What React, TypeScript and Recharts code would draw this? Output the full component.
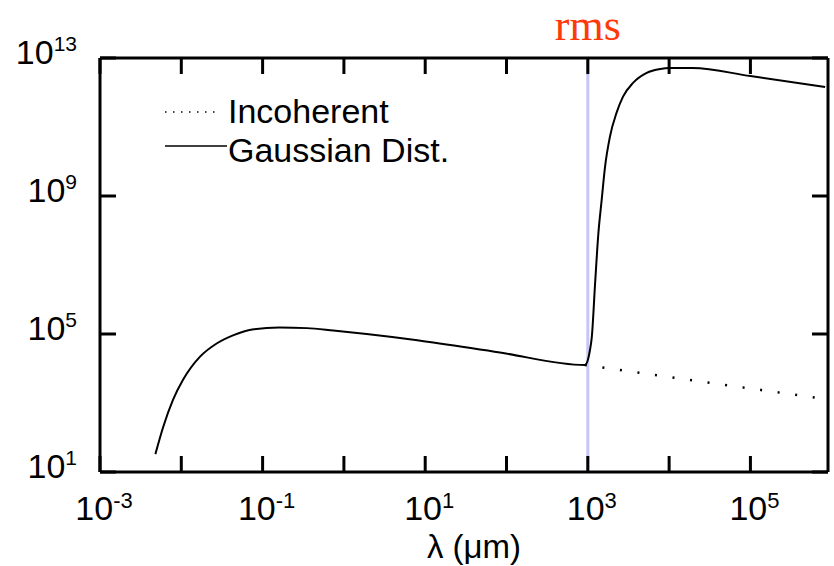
import React from 'react';
import { LineChart, Line, XAxis, YAxis, ReferenceLine, Legend } from 'recharts';

// wavelength (um) and intensity, log-log
const LAMBDA_GAUSS = [
  4.8e-3, 6.0e-3, 7.9e-3, 0.0105, 0.017, 0.0275, 0.044, 0.078, 0.16, 0.35, 0.74, 1.9, 8, 83, 920,
  1065, 1120, 1230, 1350, 1480, 1630, 1870, 2260, 2710, 3600, 5300, 7800, 10200, 19500, 100000, 830000,
];
const GAUSSIAN = [
  33, 204, 1230, 4700, 2.2e4, 5.4e4, 9.3e4, 1.38e5, 1.55e5, 1.48e5, 1.26e5, 1.0e5, 6.6e4, 2.9e4, 1.26e4,
  3.5e4, 8.3e4, 3.0e6, 8.5e7, 7.6e8, 7.1e9, 5.2e10, 2.6e11, 7.6e11, 1.9e12, 3.7e12, 4.8e12, 5.1e12, 5.1e12, 3.0e12, 1.45e12,
];

// below the rms wavelength the incoherent curve sits under the gaussian one
const LAMBDA_INCOH = [920, 830000];
const INCOHERENT = [1.26e4, 1.3e3];

const X_TICKS = [1e-3, 1e-2, 1e-1, 1, 10, 100, 1e3, 1e4, 1e5];
const X_LABELED = [1e-3, 1e-1, 10, 1e3, 1e5];
const Y_TICKS = [10, 1e5, 1e9, 1e13];
const RMS_LAMBDA = 1000;

const SANS = '"Liberation Sans", Arial, Helvetica, sans-serif';
const SERIF = '"Liberation Serif", "Times New Roman", serif';
const TICK_LEN = 16;

const gaussData = LAMBDA_GAUSS.map((x, i) => ({ x, y: GAUSSIAN[i] }));
const incohData = LAMBDA_INCOH.map((x, i) => ({ x, y: INCOHERENT[i] }));

const exponent = (v: number) => String(Math.round(Math.log10(v)));

// ticks point into the plot; x, y arrive at the axis line since tickSize/tickMargin are 0
function FrameTick({ x, y, payload, side }: any) {
  const tick = {
    bottom: [x, y, x, y - TICK_LEN],
    top: [x, y, x, y + TICK_LEN],
    left: [x, y, x + TICK_LEN, y],
    right: [x, y, x - TICK_LEN, y],
  }[side as 'bottom' | 'top' | 'left' | 'right'];
  let label = null;
  if (side === 'bottom' && X_LABELED.includes(payload.value)) {
    label = (
      <text x={x + 4} y={y + 48} textAnchor="middle" fontFamily={SANS} fontSize={34} fill="#000">
        10<tspan dy={-12} fontSize={22}>{exponent(payload.value)}</tspan>
      </text>
    );
  }
  if (side === 'left') {
    label = (
      <text x={x - 23} y={y + 6} textAnchor="end" fontFamily={SANS} fontSize={34} fill="#000">
        10<tspan dy={-13} fontSize={21}>{exponent(payload.value)}</tspan>
      </text>
    );
  }
  return (
    <g>
      <line x1={tick[0]} y1={tick[1]} x2={tick[2]} y2={tick[3]} stroke="#000" strokeWidth={3} />
      {label}
    </g>
  );
}

function LegendBox({ payload }: any) {
  const rows = (payload || []).filter((p: any) => p.type !== 'none');
  return (
    <svg width={300} height={80}>
      {rows.map((p: any) => {
        const dotted = p.value === 'Incoherent';
        const ly = dotted ? 20 : 54;
        return (
          <g key={p.value}>
            <line
              x1={5}
              x2={dotted ? 55 : 67}
              y1={ly}
              y2={ly}
              stroke="#000"
              strokeWidth={1.5}
              strokeDasharray={dotted ? '1.5 6.5' : undefined}
            />
            <text x={68} y={dotted ? 31 : 70} fontFamily={SANS} fontSize={34} fill="#000">
              {p.value}
            </text>
          </g>
        );
      })}
    </svg>
  );
}

const axisStroke = { stroke: '#000', strokeWidth: 3 };

export default function App() {
  return (
    <div style={{ position: 'absolute', left: 0, top: 0, background: '#fff' }}>
      <LineChart width={834} height={566} margin={{ top: 57, right: 5, bottom: 0, left: 0 }}>
        <XAxis
          xAxisId="b"
          dataKey="x"
          type="number"
          scale="log"
          domain={[1e-3, 9e5]}
          allowDataOverflow
          ticks={X_TICKS}
          interval={0}
          orientation="bottom"
          height={94}
          tickSize={0}
          tickMargin={0}
          tickLine={false}
          axisLine={axisStroke}
          tick={<FrameTick side="bottom" />}
          label={{ value: 'λ (μm)', position: 'insideBottom', offset: 8, fontFamily: SANS, fontSize: 33, fill: '#000', dx: 10 }}
        />
        <XAxis
          xAxisId="t"
          dataKey="x"
          type="number"
          scale="log"
          domain={[1e-3, 9e5]}
          allowDataOverflow
          ticks={X_TICKS}
          interval={0}
          orientation="top"
          height={1}
          tickSize={0}
          tickMargin={0}
          tickLine={false}
          axisLine={axisStroke}
          tick={<FrameTick side="top" />}
        />
        <YAxis
          yAxisId="l"
          type="number"
          scale="log"
          domain={[10, 1e13]}
          allowDataOverflow
          ticks={Y_TICKS}
          interval={0}
          orientation="left"
          width={100}
          tickSize={0}
          tickMargin={0}
          tickLine={false}
          axisLine={axisStroke}
          tick={<FrameTick side="left" />}
        />
        <YAxis
          yAxisId="r"
          type="number"
          scale="log"
          domain={[10, 1e13]}
          allowDataOverflow
          ticks={Y_TICKS}
          interval={0}
          orientation="right"
          width={1}
          tickSize={0}
          tickMargin={0}
          tickLine={false}
          axisLine={axisStroke}
          tick={<FrameTick side="right" />}
        />
        <Legend
          content={<LegendBox />}
          layout="horizontal"
          verticalAlign="middle"
          align="center"
          wrapperStyle={{ left: 160, top: 92, width: 300, height: 80 }}
        />
        <Line
          xAxisId="t"
          yAxisId="r"
          data={gaussData}
          dataKey="y"
          stroke="none"
          dot={false}
          legendType="none"
          isAnimationActive={false}
        />
        <ReferenceLine
          xAxisId="b"
          yAxisId="l"
          x={RMS_LAMBDA}
          stroke="#c6c6f6"
          strokeWidth={3}
          label={{ value: 'rms', position: 'top', offset: 18, fill: '#ff3a0a', fontSize: 44, fontFamily: SERIF }}
        />
        <Line
          xAxisId="b"
          yAxisId="l"
          name="Incoherent"
          data={incohData}
          dataKey="y"
          type="linear"
          stroke="#000"
          strokeWidth={2.5}
          strokeDasharray="2 15.7"
          dot={false}
          isAnimationActive={false}
        />
        <Line
          xAxisId="b"
          yAxisId="l"
          name="Gaussian Dist."
          data={gaussData}
          dataKey="y"
          type="monotone"
          stroke="#000"
          strokeWidth={2}
          dot={false}
          isAnimationActive={false}
        />
      </LineChart>
    </div>
  );
}
